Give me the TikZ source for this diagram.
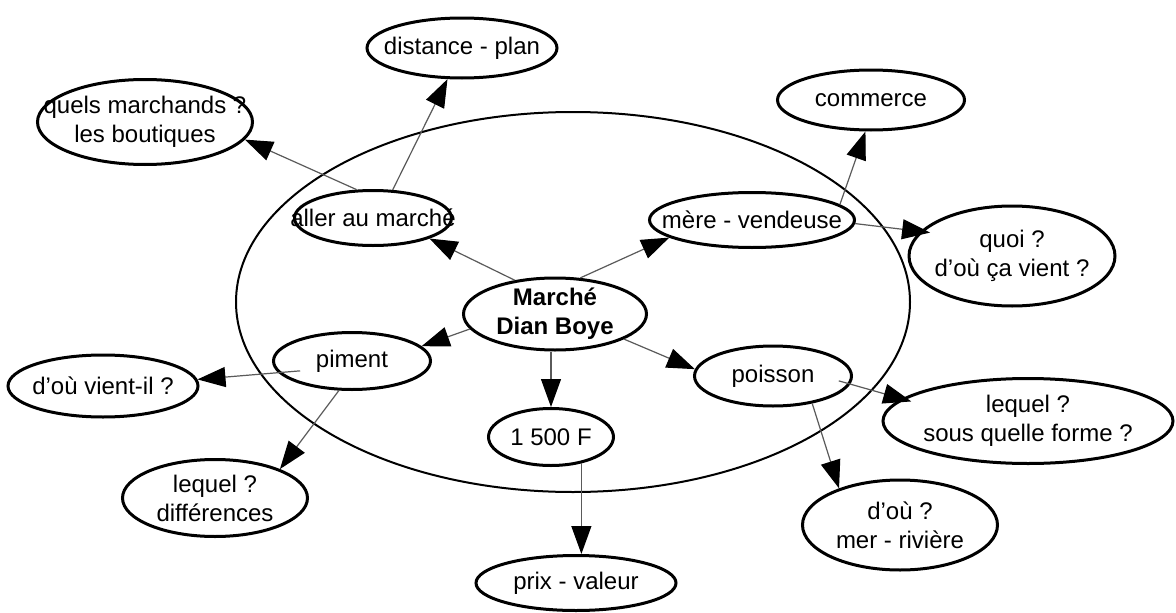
\documentclass[tikz,border=0pt]{standalone}
\usepackage{fontspec}
\setmainfont{Liberation Sans}
\usetikzlibrary{shapes.geometric,arrows.meta}
\definecolor{lgray}{RGB}{90,90,90}
\begin{document}
\begin{tikzpicture}[x=1pt,y=-1pt,
  bub/.style={ellipse, draw=black, line width=3pt, inner sep=0pt},
  txt/.style={align=center, font=\fontsize{24}{29}\selectfont, inner sep=0pt},
  con/.style={draw=lgray, line width=1.2pt, -{Triangle[length=28pt,width=20pt,color=black]}}]
\fill[white] (0,0) rectangle (1176,613);
\useasboundingbox (0,0) rectangle (1176,613);
\node[ellipse, draw=black, line width=2pt, minimum width=674pt, minimum height=380pt] (ring) at (573,302) {};
\node[bub, minimum width=190pt, minimum height=60pt, label={[txt]center:distance - plan}] (dist) at (462,48) {};
\node[bub, minimum width=215pt, minimum height=85pt, label={[txt]center:{quels marchands ?\\les boutiques}}] (quels) at (145,122) {};
\node[bub, minimum width=187pt, minimum height=60pt, label={[txt]center:commerce}] (comm) at (871,100) {};
\node[bub, minimum width=157pt, minimum height=55pt, label={[txt]center:aller au marché}] (aller) at (373,218) {};
\node[bub, minimum width=205pt, minimum height=55pt, label={[txt]center:mère - vendeuse}] (mere) at (752,220) {};
\node[bub, minimum width=206pt, minimum height=100pt, label={[txt]center:{quoi ?\\d'où ça vient ?}}] (quoi) at (1012,256) {};
\node[bub, minimum width=183pt, minimum height=72pt, label={[txt, font=\fontsize{24}{29}\selectfont\bfseries]center:{Marché\\Dian Boye}}] (march) at (555,314) {};
\node[bub, minimum width=157pt, minimum height=57pt, label={[txt]center:piment}] (piment) at (352,361) {};
\node[bub, minimum width=190pt, minimum height=62pt, label={[txt]center:d'où vient-il ?}] (douvient) at (103,386) {};
\node[bub, minimum width=157pt, minimum height=60pt, label={[txt]center:poisson}] (poisson) at (773,376) {};
\node[bub, minimum width=125pt, minimum height=57pt, label={[txt]center:1 500 F}] (f1500) at (551,437) {};
\node[bub, minimum width=290pt, minimum height=85pt, label={[txt]center:{lequel ?\\sous quelle forme ?}}] (lqsous) at (1028,421) {};
\node[bub, minimum width=185pt, minimum height=77pt, label={[txt]center:{lequel ?\\différences}}] (lqdiff) at (215,498) {};
\node[bub, minimum width=195pt, minimum height=90pt, label={[txt]center:{d'où ?\\mer - rivière}}] (douriv) at (900,525) {};
\node[bub, minimum width=200pt, minimum height=55pt, label={[txt]center:prix - valeur}] (prix) at (576,583) {};
\draw[con] (aller.55) -- (dist.245);
\draw[con] (aller.120) -- (quels.-10);
\draw[con] (march.140) -- (aller.-20);
\draw[con] (march.55) -- (mere.192);
\draw[con] (mere.10) -- (comm.260);
\draw[con, shorten >=-10pt] (mere.-2) -- (quoi.165);
\draw[con] (march.190) -- (piment.12);
\draw[con, shorten <=-22pt] (piment.189) -- (douvient.4);
\draw[con] (piment.246) -- (lqdiff.24);
\draw[con] (f1500.north |- march.south) -- (f1500.north);
\draw[con] (f1500.-41) -- (f1500.-41 |- prix.north);
\draw[con] (march.-20) -- (poisson.175);
\draw[con, shorten <=-12pt, shorten >=-10pt] (poisson.-6) -- (lqsous.170);
\draw[con] (poisson.-35) -- (douriv.149);
\end{tikzpicture}
\end{document}
